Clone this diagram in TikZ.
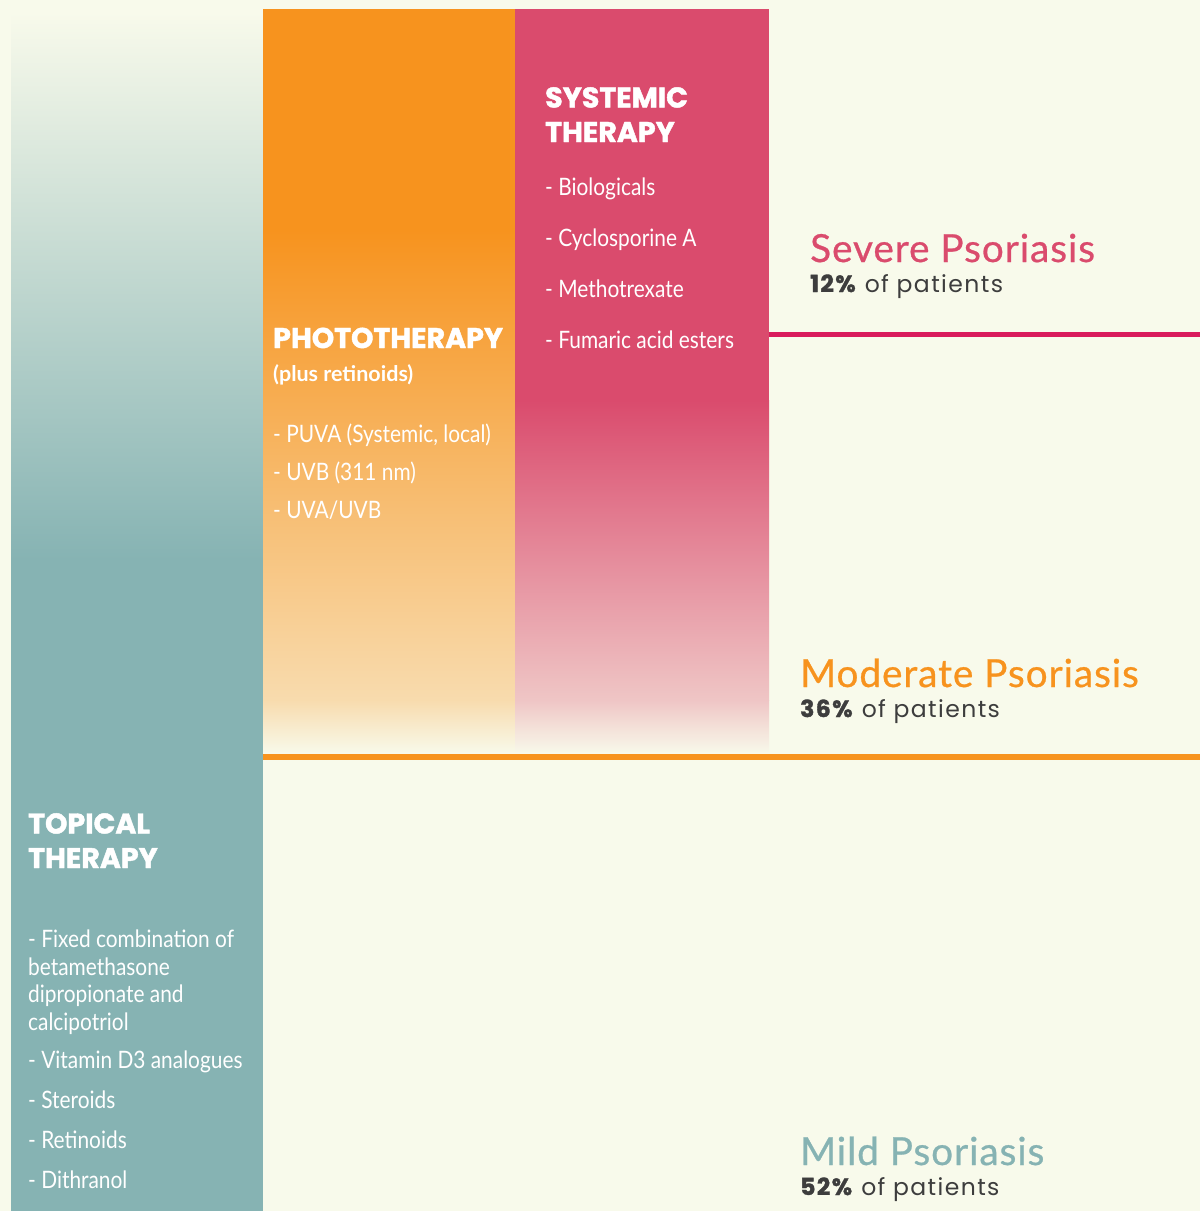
\documentclass[tikz,border=0pt]{standalone}
\usepackage{fontspec}
\setmainfont{Lato}
\newfontfamily\itemfont{Lato}[FakeStretch=0.87]
\newfontfamily\headfont{Poppins}[BoldFeatures={FakeBold=1.6}]
\newfontfamily\levelfont{Lato}[LetterSpace=2.5, FakeBold=0.7]
\newfontfamily\sharefont{Poppins}[LetterSpace=6, BoldFeatures={FakeBold=1.4}]
\usetikzlibrary{positioning}

\definecolor{paper}{HTML}{F8FAEB}
\definecolor{topicalteal}{HTML}{86B3B3}
\definecolor{photoorange}{HTML}{F7931E}
\definecolor{sysrose}{HTML}{DA4B6D}
\definecolor{severeline}{HTML}{D91B5C}
\definecolor{sharegray}{HTML}{3D3D3D}

\begin{document}
\begin{tikzpicture}[x=1pt, y=-1pt,
  head/.style={anchor=base west, inner sep=0pt, text=white, align=left,
               font=\headfont\bfseries\fontsize{28.5}{34.5}\selectfont},
  sub/.style={anchor=base west, inner sep=0pt, text=white,
              font=\bfseries\fontsize{21.5}{26}\selectfont},
  item/.style={anchor=base west, inner sep=0pt, text=white, align=left,
               font=\itemfont\fontsize{24}{27.5}\selectfont},
  level/.style={anchor=base west, inner sep=0pt,
                font=\levelfont\fontsize{38.7}{44}\selectfont},
  share/.style={anchor=base west, inner sep=0pt, text=sharegray,
                font=\sharefont\fontsize{23.5}{26}\selectfont}]
\useasboundingbox (0,0) rectangle (1200,1211);
\fill[paper] (0,0) rectangle (1200,1211);

% topical column, fading in from the top
\shade[top color=paper, bottom color=topicalteal] (11,12) rectangle (263,560);
\fill[topicalteal] (11,560) rectangle (263,1211);

% phototherapy column, fading out to the bottom
\fill[photoorange] (263,9) rectangle (515,230);
\shade[top color=photoorange, bottom color=photoorange!30!paper] (263,230) rectangle (515,700);
\shade[top color=photoorange!30!paper, bottom color=paper] (263,700) rectangle (515,754);

% systemic column
\fill[sysrose] (515,9) rectangle (769,400);
\shade[top color=sysrose, bottom color=sysrose!30!paper] (515,400) rectangle (769,700);
\shade[top color=sysrose!30!paper, bottom color=paper] (515,700) rectangle (769,754);

% severity thresholds
\coordinate (severeL) at (769,334.5);
\coordinate (severeR) at (1200,334.5);
\coordinate (moderateL) at (263,757);
\coordinate (moderateR) at (1200,757);
\draw[severeline, line width=5.5pt] (severeL) -- (severeR);
\draw[photoorange, line width=6pt] (moderateL) -- (moderateR);

% systemic therapy (multi-line nodes sit on their last baseline)
\node[head] (sysHead) at (545,142) {SYSTEMIC\\THERAPY};
\node[item] (sysBio) at (545,195) {- Biologicals};
\node[item] (sysCyc) at (545,246) {- Cyclosporine A};
\node[item] (sysMtx) at (545,297) {- Methotrexate};
\node[item] (sysFae) at (545,348) {- Fumaric acid esters};

% phototherapy
\node[head] (photoHead) at (273,348) {PHOTOTHERAPY};
\node[sub] (photoSub) at (273,381) {(plus retinoids)};
\node[item] (photoPuva) at (273,442) {- PUVA (Systemic, local)};
\node[item] (photoUvb) at (273,480) {- UVB (311 nm)};
\node[item] (photoUvab) at (273,518) {- UVA/UVB};

% topical therapy
\node[head] (topHead) at (28,868) {TOPICAL\\THERAPY};
\node[item] (topFixed) at (28,1030) {- Fixed combination of\\betamethasone\\dipropionate and\\calcipotriol};
\node[item] (topVitD) at (28,1068) {- Vitamin D3 analogues};
\node[item] (topSter) at (28,1108) {- Steroids};
\node[item] (topRet) at (28,1148) {- Retinoids};
\node[item] (topDith) at (28,1188) {- Dithranol};

% severity labels
\node[level, text=sysrose] (severe) at (810,262) {Severe Psoriasis};
\node[share] (severeShare) at (810,292) {\textbf{12\%} of patients};
\node[level, text=photoorange] (moderate) at (800,687) {Moderate Psoriasis};
\node[share] (moderateShare) at (800,717) {\textbf{36\%} of patients};
\node[level, text=topicalteal] (mild) at (800,1165) {Mild Psoriasis};
\node[share] (mildShare) at (800,1195) {\textbf{52\%} of patients};
\end{tikzpicture}
\end{document}
